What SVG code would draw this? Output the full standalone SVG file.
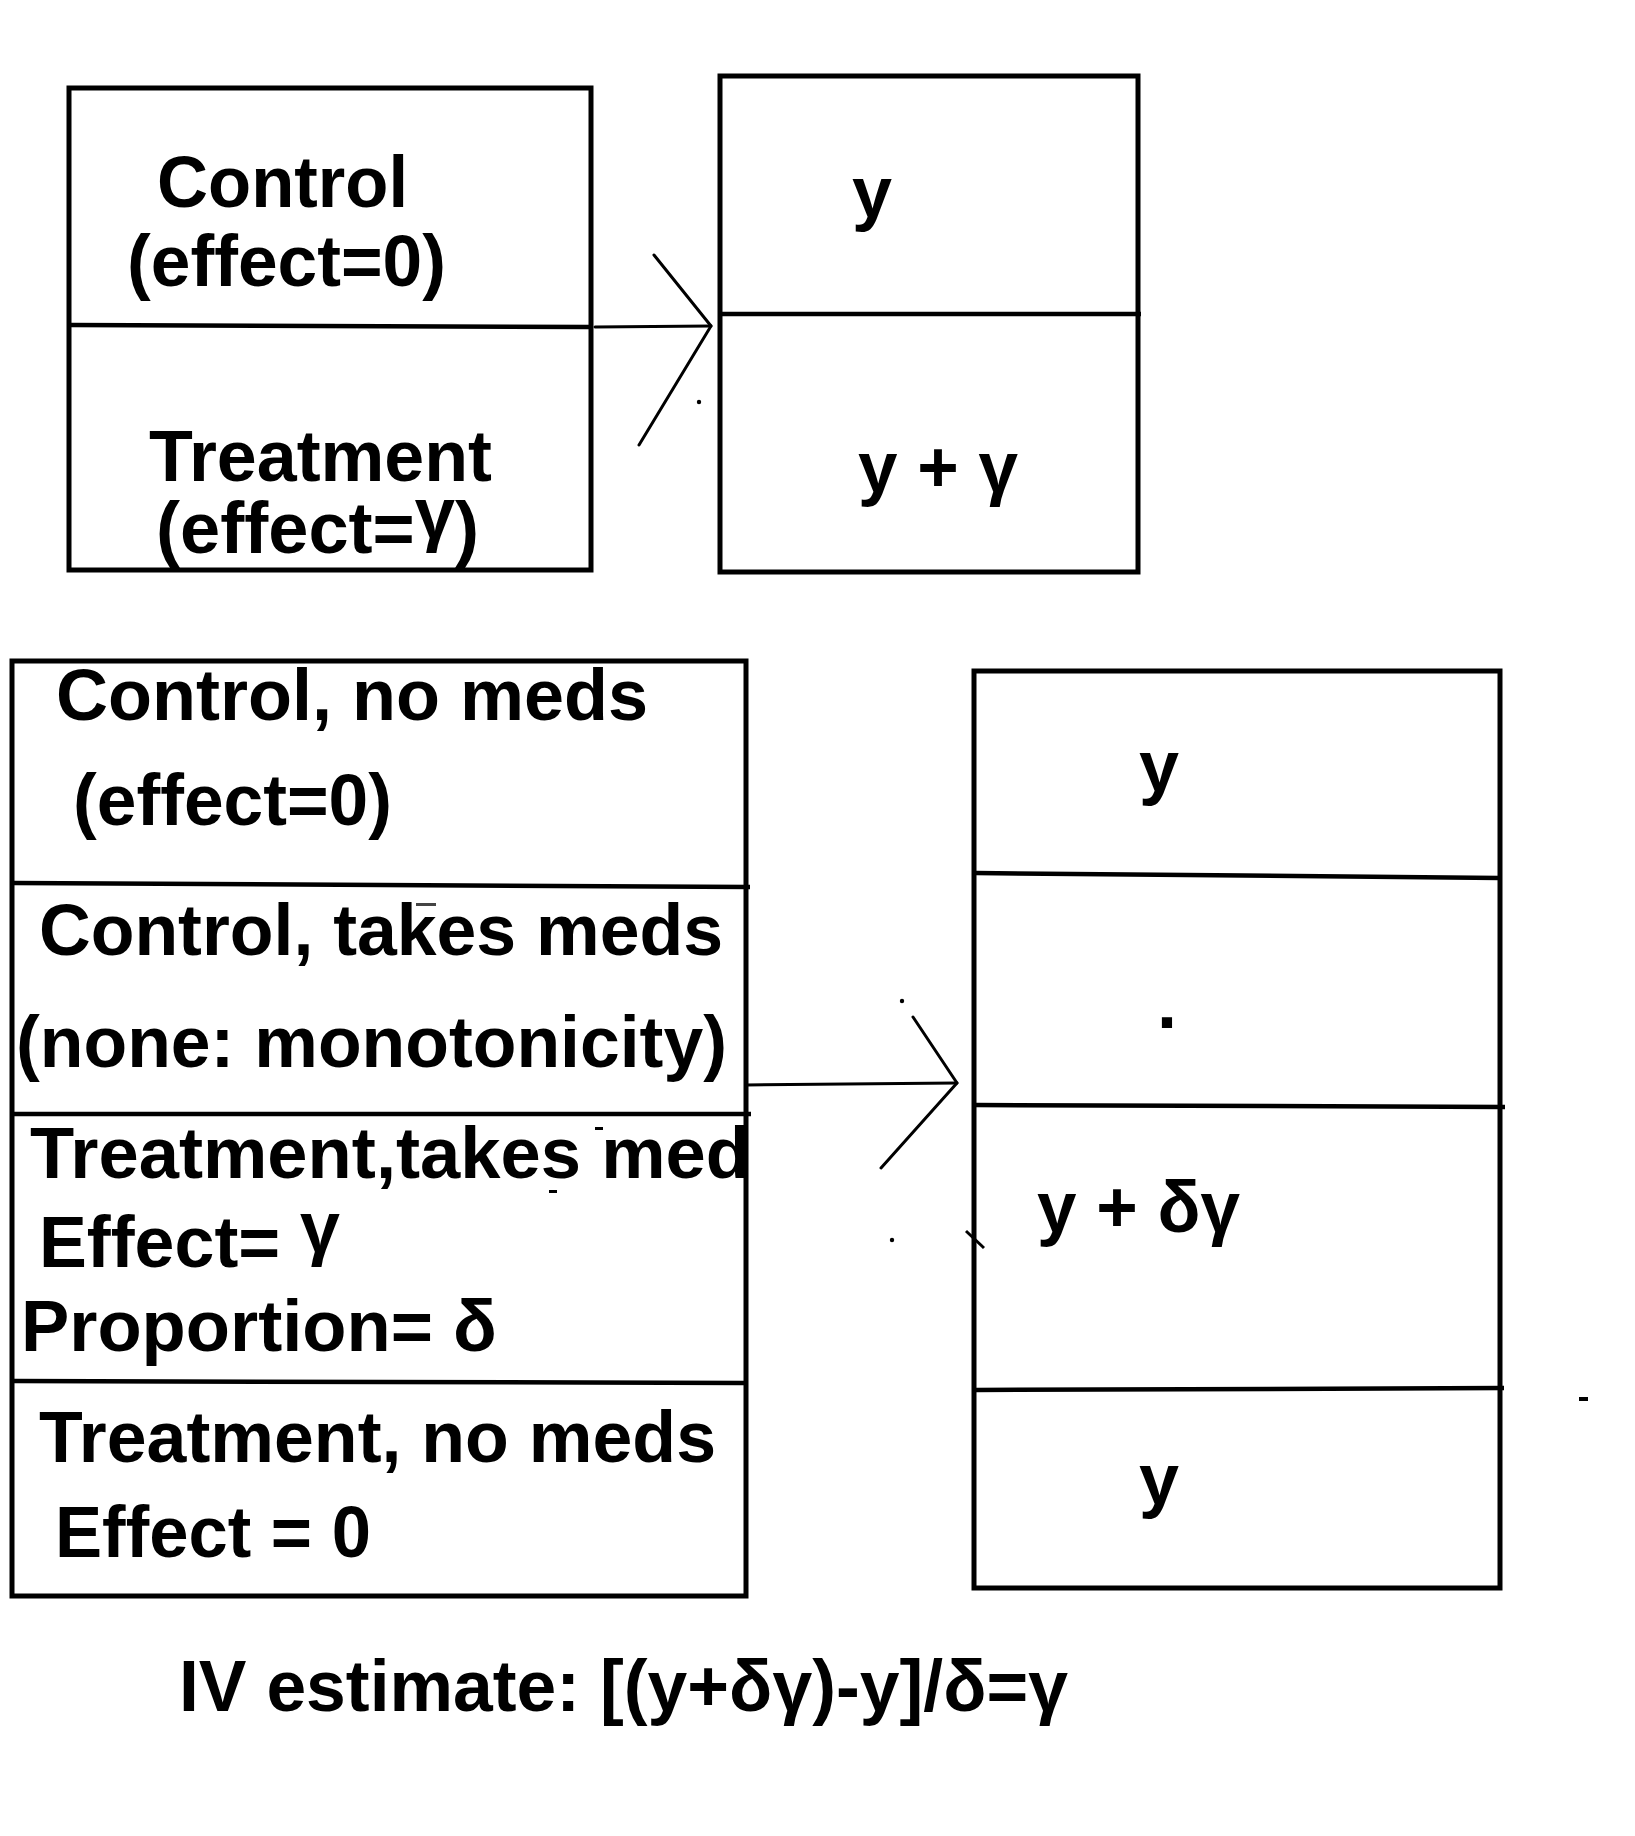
<svg xmlns="http://www.w3.org/2000/svg" width="1635" height="1836" viewBox="0 0 1635 1836">
<style>
.box{fill:none;stroke:#000;stroke-width:5}
.div{stroke:#000;stroke-width:4.5;fill:none}
.conn{stroke:#000;stroke-width:3;fill:none;stroke-linecap:round;stroke-linejoin:round}
.t{font-family:"Liberation Sans",Arial,sans-serif;font-weight:bold;font-size:72px;fill:#000}
</style>
<rect width="1635" height="1836" fill="#fff"/>
<g id="node-assignment">
<rect class="box" x="69" y="88" width="522" height="482"/>
<line class="div" x1="71" y1="325" x2="589" y2="327"/>
<text class="t" x="157" y="207" textLength="251" lengthAdjust="spacingAndGlyphs">Control</text>
<text class="t" x="127" y="286" textLength="319" lengthAdjust="spacingAndGlyphs">(effect=0)</text>
<text class="t" x="149" y="481" textLength="343" lengthAdjust="spacingAndGlyphs">Treatment</text>
<text class="t" x="156" y="553" textLength="323" lengthAdjust="spacingAndGlyphs">(effect=<tspan dy="-15">γ</tspan><tspan dy="15">)</tspan></text>
</g>
<g id="node-outcome-simple">
<rect class="box" x="720" y="76" width="418" height="496"/>
<line class="div" x1="722" y1="314" x2="1141" y2="314"/>
<text class="t" x="852" y="217">y</text>
<text class="t" x="858" y="492" textLength="160" lengthAdjust="spacingAndGlyphs">y + γ</text>
</g>
<g id="node-groups">
<rect class="box" x="12" y="661" width="734" height="935"/>
<line class="div" x1="14" y1="883" x2="750" y2="887"/>
<line class="div" x1="14" y1="1114" x2="751" y2="1114"/>
<line class="div" x1="14" y1="1381" x2="744" y2="1383"/>
<text class="t" x="56" y="720" textLength="592" lengthAdjust="spacingAndGlyphs">Control, no meds</text>
<text class="t" x="73" y="825" textLength="319" lengthAdjust="spacingAndGlyphs">(effect=0)</text>
<text class="t" x="39" y="955" textLength="684" lengthAdjust="spacingAndGlyphs">Control, takes meds</text>
<text class="t" x="16" y="1067" textLength="711" lengthAdjust="spacingAndGlyphs">(none: monotonicity)</text>
<text class="t" x="30" y="1178" textLength="720" lengthAdjust="spacingAndGlyphs">Treatment,takes med</text>
<text class="t" x="39" y="1267" textLength="301" lengthAdjust="spacingAndGlyphs">Effect= <tspan dy="-15">γ</tspan></text>
<text class="t" x="21" y="1351" textLength="476" lengthAdjust="spacingAndGlyphs">Proportion= δ</text>
<text class="t" x="39" y="1462" textLength="677" lengthAdjust="spacingAndGlyphs">Treatment, no meds</text>
<text class="t" x="55" y="1557" textLength="316" lengthAdjust="spacingAndGlyphs">Effect = 0</text>
</g>
<g id="node-outcome-iv">
<rect class="box" x="974" y="671" width="526" height="917"/>
<line class="div" x1="976" y1="873" x2="1500" y2="878"/>
<line class="div" x1="976" y1="1105" x2="1505" y2="1107"/>
<line class="div" x1="976" y1="1390" x2="1504" y2="1388"/>
<text class="t" x="1139" y="791">y</text>
<text class="t" x="1157" y="1028">.</text>
<text class="t" x="1037" y="1232" textLength="203" lengthAdjust="spacingAndGlyphs">y + δγ</text>
<text class="t" x="1139" y="1504">y</text>
</g>
<g id="connectors">
<line class="conn" x1="595" y1="327" x2="711" y2="326"/>
<polyline class="conn" points="654,255 711,326 639,445"/>
<line class="conn" x1="746" y1="1085" x2="957" y2="1083"/>
<polyline class="conn" points="913,1017 957,1083 881,1168"/>
</g>
<g id="marks" fill="#000" stroke="none">
<circle cx="699" cy="402" r="2.2"/>
<circle cx="902" cy="1001" r="2.2"/>
<circle cx="892" cy="1240" r="2.2"/>
<line x1="966" y1="1231" x2="984" y2="1248" stroke="#000" stroke-width="3"/>
<rect x="1579" y="1397" width="9" height="4"/>
<rect x="416" y="903" width="20" height="3" fill="#444"/>
<rect x="595" y="1127" width="8" height="3"/>
<rect x="549" y="1190" width="8" height="3"/>
</g>
<g id="caption">
<text class="t" x="179" y="1711" textLength="889" lengthAdjust="spacingAndGlyphs">IV estimate: [(y+δγ)-y]/δ=γ</text>
</g>
</svg>
